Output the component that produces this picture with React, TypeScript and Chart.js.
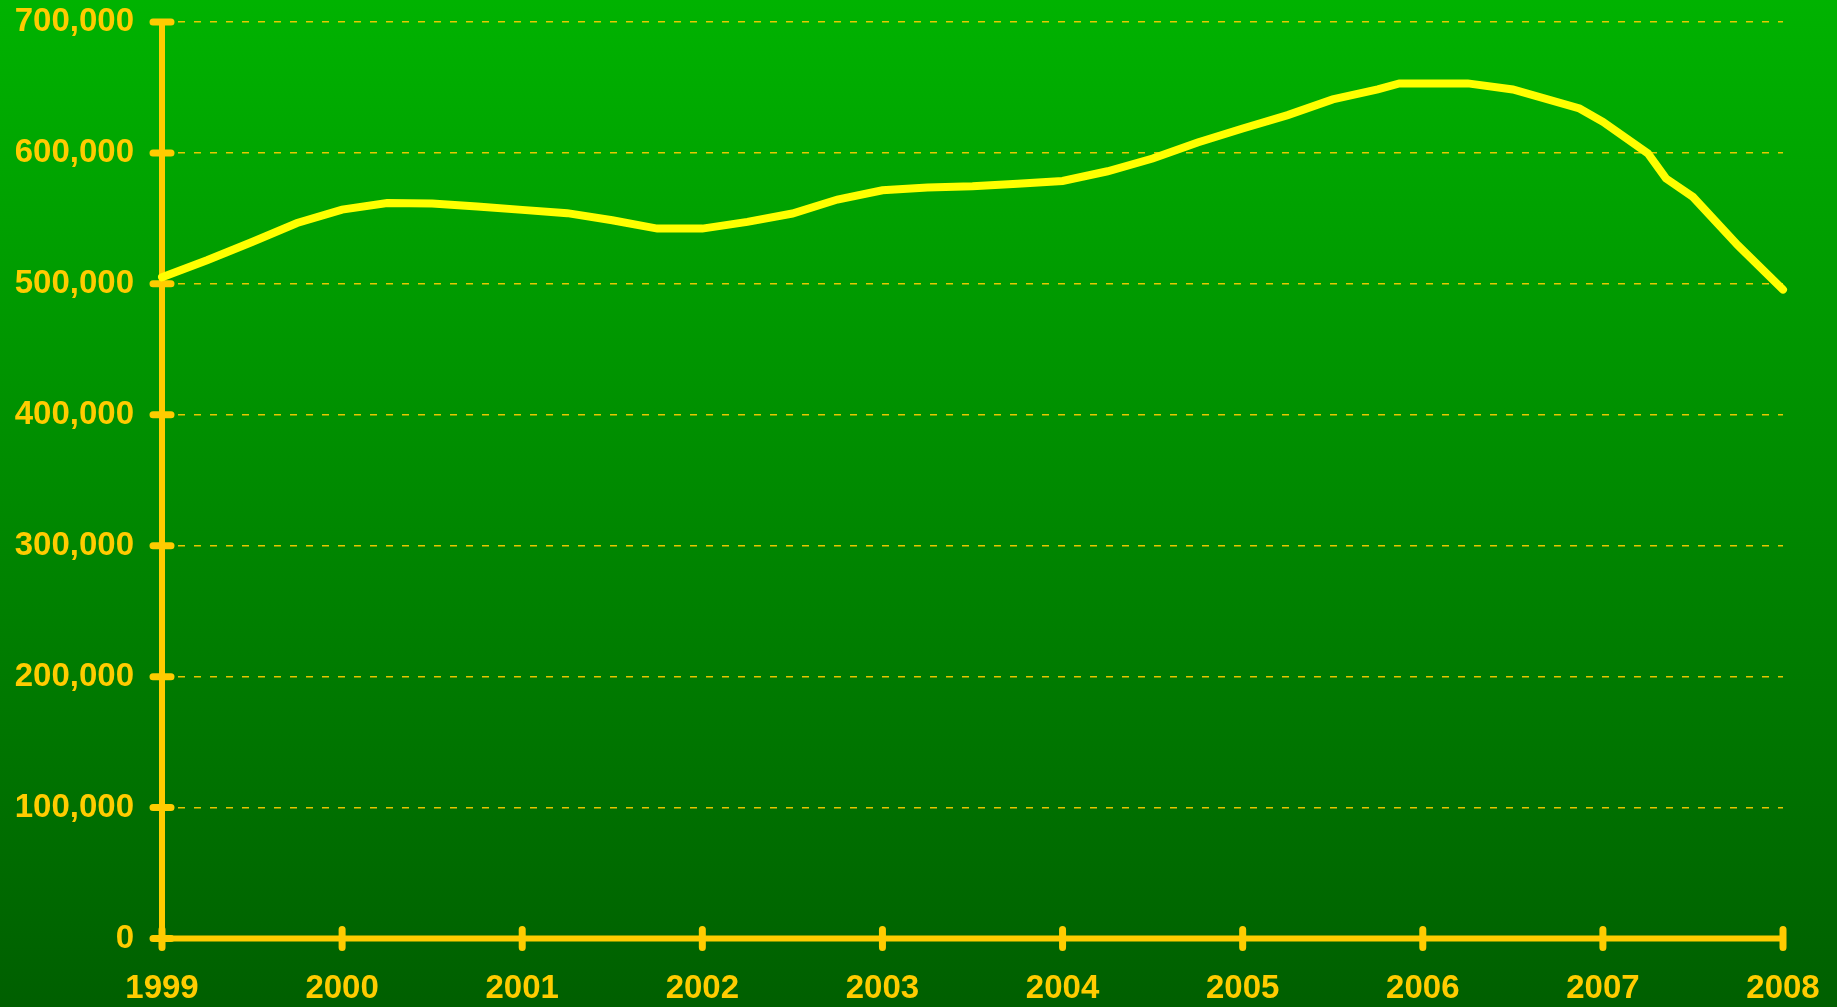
import React, { useEffect, useRef } from "react";
import { Chart, registerables } from "chart.js";

Chart.register(...registerables);

// Decimal-year positions of the series points
const DATES = [
  1999.0, 1999.25, 1999.5, 1999.75,
  2000.0, 2000.25, 2000.5, 2000.75,
  2001.0, 2001.25, 2001.5, 2001.75,
  2002.0, 2002.25, 2002.5, 2002.75,
  2003.0, 2003.25, 2003.5, 2003.75,
  2004.0, 2004.25, 2004.5, 2004.75,
  2005.0, 2005.25, 2005.5, 2005.75, 2005.87,
  2006.25, 2006.5, 2006.87,
  2007.0, 2007.25, 2007.35, 2007.5, 2007.75,
  2008.0,
];

const VALUES = [
  505000, 518000, 532000, 546500,
  556700, 561800, 561300, 559000,
  556500, 554000, 548600, 542200,
  542200, 547300, 553700, 564400,
  571500, 573600, 574500, 576500,
  578600, 586000, 595700, 608000,
  618700, 628900, 640900, 648500, 653100,
  653100, 648500, 634000,
  623800, 599600, 580500, 566400, 529400,
  495600,
];

const X_MIN = 1999;
const X_MAX = 2008;
const Y_MIN = 0;
const Y_MAX = 700000;
const Y_STEP = 100000;

const GOLD = "#FFCC00";
const LINE = "#FFFF00";
const FONT = { family: "'Liberation Sans', Arial, sans-serif", size: 33, weight: "bold" as const, lineHeight: 1.0 };

const axisPlugin = {
  id: "customAxes",
  beforeDatasetsDraw(chart: any) {
    const { ctx } = chart;
    const xs = chart.scales.x;
    const ys = chart.scales.y;
    const x0 = xs.getPixelForValue(X_MIN);
    const x1 = xs.getPixelForValue(X_MAX);
    const y0 = ys.getPixelForValue(Y_MIN);
    const yTop = ys.getPixelForValue(Y_MAX);
    ctx.save();
    ctx.strokeStyle = GOLD;
    ctx.lineCap = "round";
    ctx.setLineDash([]);
    ctx.lineWidth = 6;
    ctx.beginPath();
    ctx.moveTo(x0, yTop);
    ctx.lineTo(x0, y0);
    ctx.moveTo(x0, y0);
    ctx.lineTo(x1, y0);
    ctx.stroke();
    ctx.lineWidth = 7;
    ctx.beginPath();
    for (const t of ys.ticks) {
      const py = ys.getPixelForValue(t.value);
      ctx.moveTo(x0 - 9, py);
      ctx.lineTo(x0 + 9, py);
    }
    for (const t of xs.ticks) {
      const px = xs.getPixelForValue(t.value);
      ctx.moveTo(px, y0 - 9);
      ctx.lineTo(px, y0 + 9);
    }
    ctx.stroke();
    ctx.restore();
  },
};

export default function App() {
  const canvasRef = useRef<HTMLCanvasElement | null>(null);

  useEffect(() => {
    const canvas = canvasRef.current;
    if (!canvas) return;
    const data = DATES.map((d, i) => ({ x: d, y: VALUES[i] }));
    const chart = new Chart(canvas, {
      type: "line",
      data: {
        datasets: [
          {
            data,
            borderColor: LINE,
            borderWidth: 8,
            borderCapStyle: "round",
            borderJoinStyle: "miter",
            pointRadius: 0,
            tension: 0,
            fill: false,
            clip: false,
          },
        ],
      },
      options: {
        responsive: false,
        animation: false,
        events: [],
        layout: { padding: { left: 0, right: 54, top: 22, bottom: 0 } },
        plugins: {
          legend: { display: false },
          tooltip: { enabled: false },
          title: { display: false },
        },
        scales: {
          x: {
            type: "linear",
            min: X_MIN,
            max: X_MAX,
            afterFit: (scale: any) => {
              scale.height = 68.5;
              scale.paddingLeft = 0;
              scale.paddingRight = 0;
            },
            ticks: {
              stepSize: 1,
              color: GOLD,
              font: FONT,
              padding: 34,
              maxRotation: 0,
              autoSkip: false,
              callback: (v: any) => String(v),
            },
            grid: { display: false, drawTicks: false },
            border: { display: false },
          },
          y: {
            type: "linear",
            min: Y_MIN,
            max: Y_MAX,
            afterFit: (scale: any) => {
              scale.width = 162;
              scale.paddingTop = 0;
              scale.paddingBottom = 0;
            },
            ticks: {
              stepSize: Y_STEP,
              color: GOLD,
              font: FONT,
              padding: 28,
              callback: (v: any) => Number(v).toLocaleString("en-US"),
            },
            grid: {
              display: true,
              drawTicks: false,
              color: "rgba(255,204,0,0.9)",
              lineWidth: 1.5,
            },
            border: { display: false, dash: [7, 9] },
          },
        },
      },
      plugins: [axisPlugin],
    });
    return () => chart.destroy();
  }, []);

  return (
    <div
      style={{
        position: "absolute",
        left: 0,
        top: 0,
        width: 1837,
        height: 1007,
        background: "linear-gradient(to bottom, #00b300 0%, #005f00 100%)",
      }}
    >
      <canvas ref={canvasRef} width={1837} height={1007} style={{ display: "block" }} />
    </div>
  );
}
